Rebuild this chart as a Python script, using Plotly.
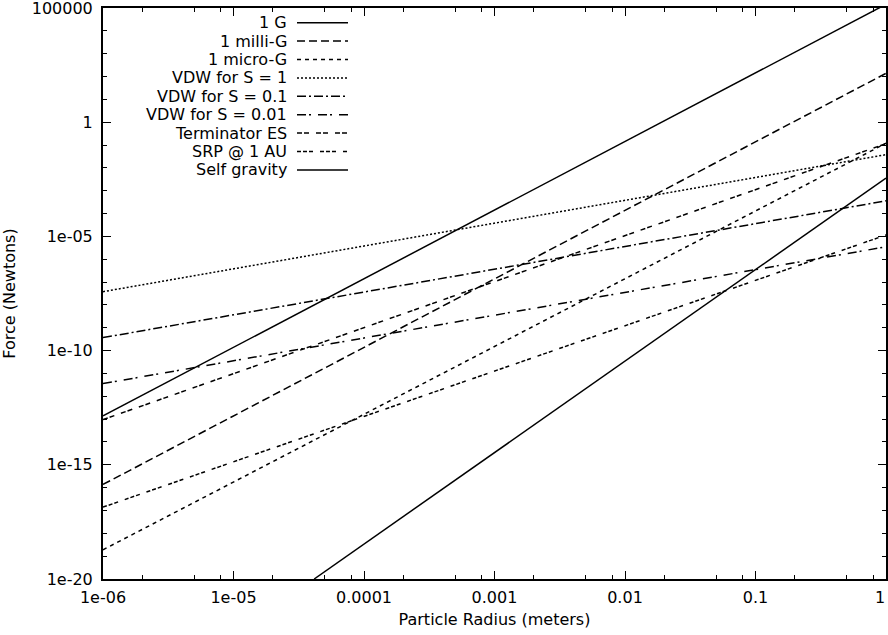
import plotly.graph_objects as go

# ---------------- data ----------------
series_names = ["1 G", "1 milli-G", "1 micro-G", "VDW for S = 1", "VDW for S = 0.1",
                "VDW for S = 0.01", "Terminator ES", "SRP @ 1 AU", "Self gravity"]

radius_ends = [1e-6, 1.0]                 # particle radius (m) at left / right edge
g_1 = [1.38e-13, 1.45e5]
g_milli = [1.38e-16, 138.0]
g_micro = [1.9e-19, 0.12]
vdw_s1 = [3.8e-8, 3.8e-2]
vdw_s01 = [3.7e-10, 3.6e-4]
vdw_s001 = [3.6e-12, 3.5e-6]
terminator_es = [9.5e-14, 0.115]
srp_1au = [1.4e-17, 1.15e-5]
self_grav_radius = [4.15e-5, 1.0]
self_gravity = [1e-20, 3.55e-3]

x_tick_vals = [1e-6, 1e-5, 1e-4, 1e-3, 1e-2, 1e-1, 1]
x_tick_text = ["1e-06", "1e-05", "0.0001", "0.001", "0.01", "0.1", "1"]
y_tick_vals = [1e-20, 1e-15, 1e-10, 1e-5, 1, 1e5]
y_tick_text = ["1e-20", "1e-15", "1e-10", "1e-05", "1", "100000"]

x_title = "Particle Radius (meters)"
y_title = "Force (Newtons)"

# ---------------- styling ----------------
W, H = 888, 635
L, R, T, B = 103, 2, 8, 56
FONT = "DejaVu Sans"
FS = 16

dashes = ["solid", "8px,4px", "4px,4px", "2px,2px", "9px,3px,2px,3px",
          "9px,3px,2px,7px", "5px,2px,5px,7px", "4px,2px,4px,2px,4px,7px", "solid"]

xs = [radius_ends] * 8 + [self_grav_radius]
ys = [g_1, g_milli, g_micro, vdw_s1, vdw_s01, vdw_s001, terminator_es, srp_1au, self_gravity]

fig = go.Figure()
for name, x, y, d in zip(series_names, xs, ys, dashes):
    fig.add_trace(go.Scatter(x=x, y=y, mode="lines", name=name, showlegend=False,
                             line=dict(color="black", width=1.5, dash=d)))

x_minor = [m * 10 ** k for k in range(-6, 0) for m in (2, 5, 8)]
y_minor = [10.0 ** k for k in range(-19, 5) if k % 5 != 0]

def px(xp):
    return (xp - L) / (W - L - R)

def py(yp):
    return 1 - (yp - T) / (H - T - B)

# gnuplot-style key (text right-aligned, sample line to the right)
for i, (name, d) in enumerate(zip(series_names, dashes)):
    yy = py(22.7 + 18.4 * i)
    fig.add_annotation(x=px(288), y=yy, xref="paper", yref="paper", text=name,
                       showarrow=False, xanchor="right", yanchor="middle", borderpad=0,
                       font=dict(family=FONT, size=FS, color="black"))
    fig.add_shape(type="line", xref="paper", yref="paper", x0=px(297), x1=px(348),
                  y0=yy, y1=yy, line=dict(color="black", width=1.5, dash=d))

# last x tick label sits at the right edge of the figure: draw it right-aligned
shown_x_text = x_tick_text[:-1] + [""]
fig.add_annotation(x=1.0, y=py(597), xref="paper", yref="paper", text=x_tick_text[-1],
                   showarrow=False, xanchor="right", yanchor="middle", borderpad=0,
                   font=dict(family=FONT, size=FS, color="black"))

axis_common = dict(type="log", ticks="inside", ticklen=8, tickwidth=1.2, tickcolor="black",
                   showline=True, linewidth=2, linecolor="black", mirror="allticks",
                   showgrid=False, zeroline=False, automargin=False,
                   ticklabeloverflow="allow",
                   tickfont=dict(family=FONT, size=FS, color="black"))

fig.update_layout(
    width=W, height=H,
    margin=dict(l=L, r=R, t=T, b=B, autoexpand=False),
    paper_bgcolor="white", plot_bgcolor="white",
    xaxis=dict(range=[-6, 0], tickmode="array", tickvals=x_tick_vals, ticktext=shown_x_text,
               minor=dict(tickvals=x_minor, ticks="inside", ticklen=4, tickwidth=1.2, tickcolor="black"),
               ticklabelstandoff=3,
               title=dict(text=x_title, font=dict(family=FONT, size=FS, color="black"), standoff=8),
               **axis_common),
    yaxis=dict(range=[-20, 5], tickmode="array", tickvals=y_tick_vals, ticktext=y_tick_text,
               minor=dict(tickvals=y_minor, ticks="inside", ticklen=4, tickwidth=1.2, tickcolor="black"),
               ticklabelstandoff=5,
               title=dict(text=y_title, font=dict(family=FONT, size=FS, color="black"), standoff=12),
               **axis_common),
)

fig.write_html("out.html", config={"displayModeBar": False},
               post_script="document.body.style.margin='0px';")
